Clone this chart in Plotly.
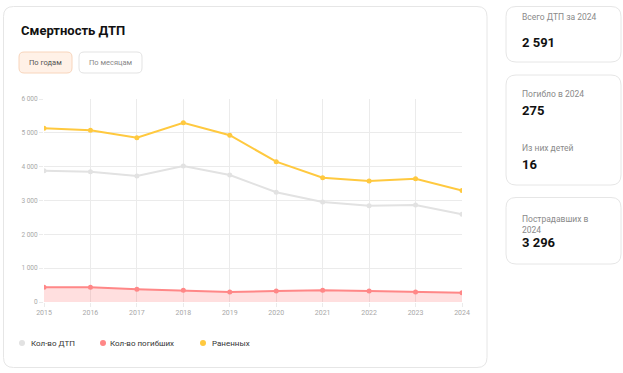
import plotly.graph_objects as go

years = [2015, 2016, 2017, 2018, 2019, 2020, 2021, 2022, 2023, 2024]
dtp = [3882, 3852, 3725, 4020, 3754, 3242, 2956, 2847, 2867, 2591]
killed = [434, 436, 375, 345, 296, 325, 345, 325, 296, 275]
injured = [5134, 5075, 4857, 5300, 4930, 4147, 3675, 3577, 3645, 3296]
y_tickvals = [0, 1000, 2000, 3000, 4000, 5000, 6000]
y_ticktext = ["0", "1 000", "2 000", "3 000", "4 000", "5 000", "6 000"]
series_names = ["Кол-во ДТП", "Кол-во погибших", "Раненных"]
series_colors = ["#E2E2E2", "#FF8787", "#FFC93F"]
cards = [
    ("Всего ДТП за 2024", "2 591"),
    ("Погибло в 2024", "275"),
    ("Из них детей", "16"),
    ("Пострадавших в<br>2024", "3 296"),
]

W, H = 623, 373
L, R, T, B = 44, 462, 99, 302
FONT = "Roboto, Arial, sans-serif"


def px(x):
    return (x - L) / (R - L)


def py(y):
    return (B - y) / (B - T)


def rrect(x0, y0, x1, y1, r, line="#E6E6E6", fill="white", width=1):
    p = (f"M {px(x0 + r)},{py(y0)} L {px(x1 - r)},{py(y0)} "
         f"Q {px(x1)},{py(y0)} {px(x1)},{py(y0 + r)} "
         f"L {px(x1)},{py(y1 - r)} Q {px(x1)},{py(y1)} {px(x1 - r)},{py(y1)} "
         f"L {px(x0 + r)},{py(y1)} Q {px(x0)},{py(y1)} {px(x0)},{py(y1 - r)} "
         f"L {px(x0)},{py(y0 + r)} Q {px(x0)},{py(y0)} {px(x0 + r)},{py(y0)} Z")
    return dict(type="path", xref="paper", yref="paper", path=p,
                line=dict(color=line, width=width), fillcolor=fill, layer="below")


fig = go.Figure()
fig.add_trace(go.Scatter(x=years, y=dtp, name=series_names[0], mode="lines+markers",
                         line=dict(color=series_colors[0], width=2),
                         marker=dict(size=5, color=series_colors[0])))
fig.add_trace(go.Scatter(x=years, y=killed, name=series_names[1], mode="lines+markers",
                         line=dict(color=series_colors[1], width=2),
                         marker=dict(size=5, color=series_colors[1]),
                         fill="tozeroy", fillcolor="rgba(255,110,110,0.22)"))
fig.add_trace(go.Scatter(x=years, y=injured, name=series_names[2], mode="lines+markers",
                         line=dict(color=series_colors[2], width=2),
                         marker=dict(size=5, color=series_colors[2])))

shapes = [
    rrect(3.5, 6.5, 487, 367.5, 10),
    rrect(506, 6.5, 621, 62, 10),
    rrect(506, 75, 621, 185, 10),
    rrect(506, 197.5, 621, 264, 10),
    rrect(19, 52, 72, 73, 5, line="#F8D5BC", fill="#FFF1E7"),
    rrect(79, 52, 142, 73, 5, line="#E3E3E3", fill="white"),
]
for cx, col in zip([22, 103, 203], series_colors):
    shapes.append(dict(type="circle", xref="paper", yref="paper",
                       x0=px(cx - 3), x1=px(cx + 3), y0=py(343 + 3), y1=py(343 - 3),
                       line=dict(width=0), fillcolor=col))

ann = [
    dict(x=px(19), y=py(30), text="<b>Смертность ДТП</b>", xanchor="left", yanchor="middle",
         font=dict(size=13, color="#111", family=FONT)),
    dict(x=px(45.5), y=py(62.5), text="По годам", xanchor="center", yanchor="middle",
         font=dict(size=7.5, color="#555", family=FONT)),
    dict(x=px(110.5), y=py(62.5), text="По месяцам", xanchor="center", yanchor="middle",
         font=dict(size=7.5, color="#8a8a8a", family=FONT)),
]
for tx, name in zip([29, 108, 210], series_names):
    ann.append(dict(x=px(tx), y=py(343), text=name, xanchor="left", yanchor="middle",
                    font=dict(size=8, color="#333", family=FONT)))

card_label_y = [16.5, 94, 148, 217]
card_value_y = [42, 110, 164, 242]
for (lab, val), ly, vy in zip(cards, card_label_y, card_value_y):
    if "<br>" in lab:
        ann.append(dict(x=px(520), y=py(ly - 5.5), text=lab, xanchor="left", yanchor="top",
                        align="left", font=dict(size=8.5, color="#8a8a8a", family=FONT)))
    else:
        ann.append(dict(x=px(520), y=py(ly), text=lab, xanchor="left", yanchor="middle",
                        font=dict(size=8.5, color="#8a8a8a", family=FONT)))
    ann.append(dict(x=px(520), y=py(vy + 0.5), text=f"<b>{val}</b>", xanchor="left", yanchor="middle",
                    font=dict(size=13, color="#111", family=FONT)))
for a in ann:
    a.update(xref="paper", yref="paper", showarrow=False)

fig.update_layout(
    width=W, height=H,
    margin=dict(l=L, r=W - R, t=T, b=H - B),
    paper_bgcolor="white", plot_bgcolor="rgba(0,0,0,0)",
    showlegend=False,
    shapes=shapes, annotations=ann,
    font=dict(family=FONT),
    xaxis=dict(range=[2015, 2024], tickvals=years, ticktext=[str(y) for y in years],
               showgrid=True, gridcolor="#EBEBEB", gridwidth=1, zeroline=False,
               ticks="outside", ticklen=4, tickcolor="#EBEBEB", showline=False,
               tickfont=dict(size=7, color="#A8A8A8")),
    yaxis=dict(range=[0, 6000], tickvals=y_tickvals, ticktext=y_ticktext,
               showgrid=True, gridcolor="#EBEBEB", gridwidth=1, zeroline=False,
               ticks="outside", ticklen=4, tickcolor="#EBEBEB", showline=False,
               tickfont=dict(size=6.5, color="#A8A8A8")),
)
fig.write_html("out.html", config={"displayModeBar": False},
               post_script="document.body.style.margin='0';document.body.style.overflow='hidden';")
